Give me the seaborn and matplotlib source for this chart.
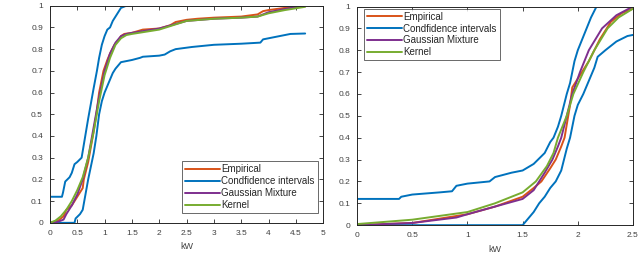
import numpy as np
import pandas as pd
import matplotlib
matplotlib.use("Agg")
import matplotlib.pyplot as plt
import seaborn as sns

# ---- left panel data (kW, cumulative probability) ----
left_emp_x = [0, 0.15, 0.25, 0.3, 0.4, 0.5, 0.6, 0.62, 0.7, 0.8, 0.85, 0.9, 0.98, 1.05, 1.1, 1.18, 1.25, 1.3, 1.36, 1.5, 1.7, 2.0, 2.2, 2.3, 2.5, 2.7, 3.0, 3.5, 3.8, 3.9, 4.0, 4.3, 4.67]
left_emp_y = [0, 0.01, 0.03, 0.06, 0.08, 0.12, 0.16, 0.2, 0.28, 0.42, 0.5, 0.6, 0.7, 0.75, 0.78, 0.82, 0.84, 0.86, 0.87, 0.875, 0.89, 0.895, 0.91, 0.925, 0.935, 0.94, 0.945, 0.95, 0.96, 0.975, 0.98, 0.99, 1.0]
left_hi_x = [0, 0.22, 0.24, 0.28, 0.36, 0.4, 0.45, 0.5, 0.58, 0.62, 0.66, 0.7, 0.75, 0.8, 0.86, 0.9, 0.95, 1.0, 1.05, 1.1, 1.15, 1.2, 1.25, 1.3, 1.4, 4.67]
left_hi_y = [0.12, 0.12, 0.14, 0.19, 0.21, 0.23, 0.27, 0.28, 0.30, 0.36, 0.42, 0.48, 0.55, 0.62, 0.7, 0.76, 0.82, 0.86, 0.89, 0.9, 0.93, 0.95, 0.97, 0.99, 1.0, 1.0]
left_lo_x = [0, 0.45, 0.47, 0.55, 0.6, 0.65, 0.7, 0.75, 0.8, 0.85, 0.9, 0.95, 1.0, 1.05, 1.1, 1.15, 1.2, 1.3, 1.5, 1.65, 1.7, 2.0, 2.1, 2.2, 2.3, 2.6, 3.0, 3.5, 3.85, 3.9, 4.0, 4.2, 4.4, 4.67]
left_lo_y = [0, 0, 0.02, 0.04, 0.06, 0.13, 0.2, 0.26, 0.32, 0.4, 0.5, 0.56, 0.6, 0.63, 0.66, 0.69, 0.71, 0.74, 0.75, 0.76, 0.765, 0.77, 0.775, 0.79, 0.8, 0.81, 0.82, 0.825, 0.83, 0.845, 0.85, 0.86, 0.87, 0.872]
left_gm_x = [0, 0.15, 0.25, 0.3, 0.4, 0.5, 0.6, 0.7, 0.8, 0.9, 1.0, 1.1, 1.2, 1.3, 1.4, 1.5, 2.0, 2.5, 3.0, 3.5, 3.8, 4.0, 4.3, 4.67]
left_gm_y = [0, 0.005, 0.015, 0.04, 0.08, 0.13, 0.2, 0.3, 0.44, 0.58, 0.7, 0.78, 0.83, 0.86, 0.87, 0.875, 0.895, 0.93, 0.94, 0.945, 0.95, 0.97, 0.985, 1.0]
left_kern_x = [0, 0.1, 0.2, 0.3, 0.4, 0.5, 0.6, 0.7, 0.8, 0.9, 1.0, 1.1, 1.2, 1.3, 1.4, 1.5, 2.0, 2.5, 3.0, 3.5, 3.8, 4.0, 4.3, 4.67]
left_kern_y = [0, 0.01, 0.03, 0.06, 0.1, 0.15, 0.21, 0.3, 0.42, 0.56, 0.68, 0.76, 0.82, 0.85, 0.865, 0.87, 0.89, 0.93, 0.94, 0.945, 0.95, 0.965, 0.98, 0.995]

# ---- right panel data ----
right_emp_x = [0, 0.5, 1.0, 1.25, 1.5, 1.6, 1.67, 1.75, 1.8, 1.85, 1.88, 1.9, 1.93, 1.95, 2.0, 2.05, 2.1, 2.15, 2.2, 2.3, 2.4, 2.5]
right_emp_y = [0, 0.01, 0.05, 0.085, 0.13, 0.17, 0.2, 0.26, 0.3, 0.36, 0.4, 0.46, 0.55, 0.63, 0.67, 0.71, 0.75, 0.8, 0.85, 0.93, 0.97, 0.99]
right_hi_x = [0, 0.38, 0.4, 0.5, 0.75, 0.86, 0.9, 1.0, 1.2, 1.25, 1.4, 1.5, 1.6, 1.7, 1.75, 1.78, 1.82, 1.85, 1.9, 1.93, 1.97, 2.0, 2.08, 2.12, 2.17, 2.5]
right_hi_y = [0.12, 0.12, 0.13, 0.14, 0.15, 0.155, 0.18, 0.19, 0.2, 0.22, 0.24, 0.25, 0.28, 0.33, 0.38, 0.4, 0.45, 0.5, 0.6, 0.65, 0.75, 0.8, 0.9, 0.95, 1.0, 1.0]
right_lo_x = [0, 1.5, 1.55, 1.6, 1.65, 1.7, 1.75, 1.8, 1.85, 1.9, 1.93, 1.97, 2.0, 2.05, 2.1, 2.15, 2.18, 2.25, 2.35, 2.45, 2.5]
right_lo_y = [0, 0, 0.03, 0.06, 0.1, 0.13, 0.17, 0.2, 0.25, 0.35, 0.4, 0.5, 0.55, 0.6, 0.66, 0.72, 0.77, 0.8, 0.84, 0.865, 0.87]
right_gm_x = [0, 0.5, 0.9, 1.0, 1.25, 1.5, 1.6, 1.65, 1.7, 1.77, 1.82, 1.85, 1.9, 1.95, 2.02, 2.1, 2.22, 2.35, 2.5]
right_gm_y = [0, 0.01, 0.035, 0.05, 0.085, 0.12, 0.16, 0.2, 0.24, 0.3, 0.36, 0.4, 0.5, 0.6, 0.7, 0.8, 0.9, 0.96, 1.0]
right_kern_x = [0, 0.5, 1.0, 1.25, 1.5, 1.62, 1.72, 1.78, 1.82, 1.86, 1.9, 1.96, 2.05, 2.15, 2.27, 2.37, 2.5]
right_kern_y = [0.005, 0.025, 0.06, 0.1, 0.15, 0.2, 0.27, 0.33, 0.4, 0.45, 0.5, 0.6, 0.7, 0.8, 0.9, 0.95, 0.99]

left_xticks = [0, 0.5, 1, 1.5, 2, 2.5, 3, 3.5, 4, 4.5, 5]
right_xticks = [0, 0.5, 1, 1.5, 2, 2.5]
yticks = [0, 0.1, 0.2, 0.3, 0.4, 0.5, 0.6, 0.7, 0.8, 0.9, 1]

C_EMP = "#D95319"
C_CI = "#0072BD"
C_GM = "#7E2F8E"
C_KER = "#77AC30"

sns.set_theme(style="ticks")
plt.rcParams["font.family"] = ["Liberation Sans", "DejaVu Sans"]
plt.rcParams["font.size"] = 6

fig = plt.figure(figsize=(6.4, 2.6), dpi=100)
ax1 = fig.add_axes([0.078, 0.143, 0.427, 0.835])
ax2 = fig.add_axes([0.558, 0.134, 0.431, 0.841])


def draw(ax, emp, hi, lo, gm, kern, xmax, xticks, loc, anchor):
    lw = 1.4
    sns.lineplot(x=emp[0], y=emp[1], ax=ax, color=C_EMP, lw=lw, sort=False, label="Empirical")
    sns.lineplot(x=hi[0], y=hi[1], ax=ax, color=C_CI, lw=lw, sort=False, label="Condfidence intervals")
    sns.lineplot(x=lo[0], y=lo[1], ax=ax, color=C_CI, lw=lw, sort=False)
    sns.lineplot(x=gm[0], y=gm[1], ax=ax, color=C_GM, lw=lw, sort=False, label="Gaussian Mixture")
    sns.lineplot(x=kern[0], y=kern[1], ax=ax, color=C_KER, lw=lw, sort=False, label="Kernel")
    ax.set_xlim(0, xmax)
    ax.set_ylim(0, 1)
    ax.set_xticks(xticks)
    ax.set_xticklabels([f"{t:g}" for t in xticks])
    ax.set_yticks(yticks)
    ax.set_yticklabels([f"{t:g}" for t in yticks])
    ax.set_xlabel("kW", fontsize=6.5, color="#404040", labelpad=4)
    ax.set_ylabel("")
    ax.tick_params(direction="in", length=3, width=0.6, top=True, right=True,
                   labelsize=6, labelcolor="#404040", pad=5)
    for s in ax.spines.values():
        s.set_linewidth(0.7)
        s.set_color("#262626")
    leg = ax.legend(loc=loc, bbox_to_anchor=anchor, fontsize=7, frameon=True,
                    fancybox=False, edgecolor="#262626", handlelength=3.6,
                    handletextpad=0.15, borderpad=0.3, labelspacing=0.2,
                    borderaxespad=0.0)
    leg.get_frame().set_linewidth(0.6)


draw(ax1, (left_emp_x, left_emp_y), (left_hi_x, left_hi_y), (left_lo_x, left_lo_y),
     (left_gm_x, left_gm_y), (left_kern_x, left_kern_y), 5, left_xticks,
     "lower right", (0.98, 0.045))
draw(ax2, (right_emp_x, right_emp_y), (right_hi_x, right_hi_y), (right_lo_x, right_lo_y),
     (right_gm_x, right_gm_y), (right_kern_x, right_kern_y), 2.5, right_xticks,
     "upper left", (0.025, 0.99))

fig.savefig("out.png", dpi=100)
